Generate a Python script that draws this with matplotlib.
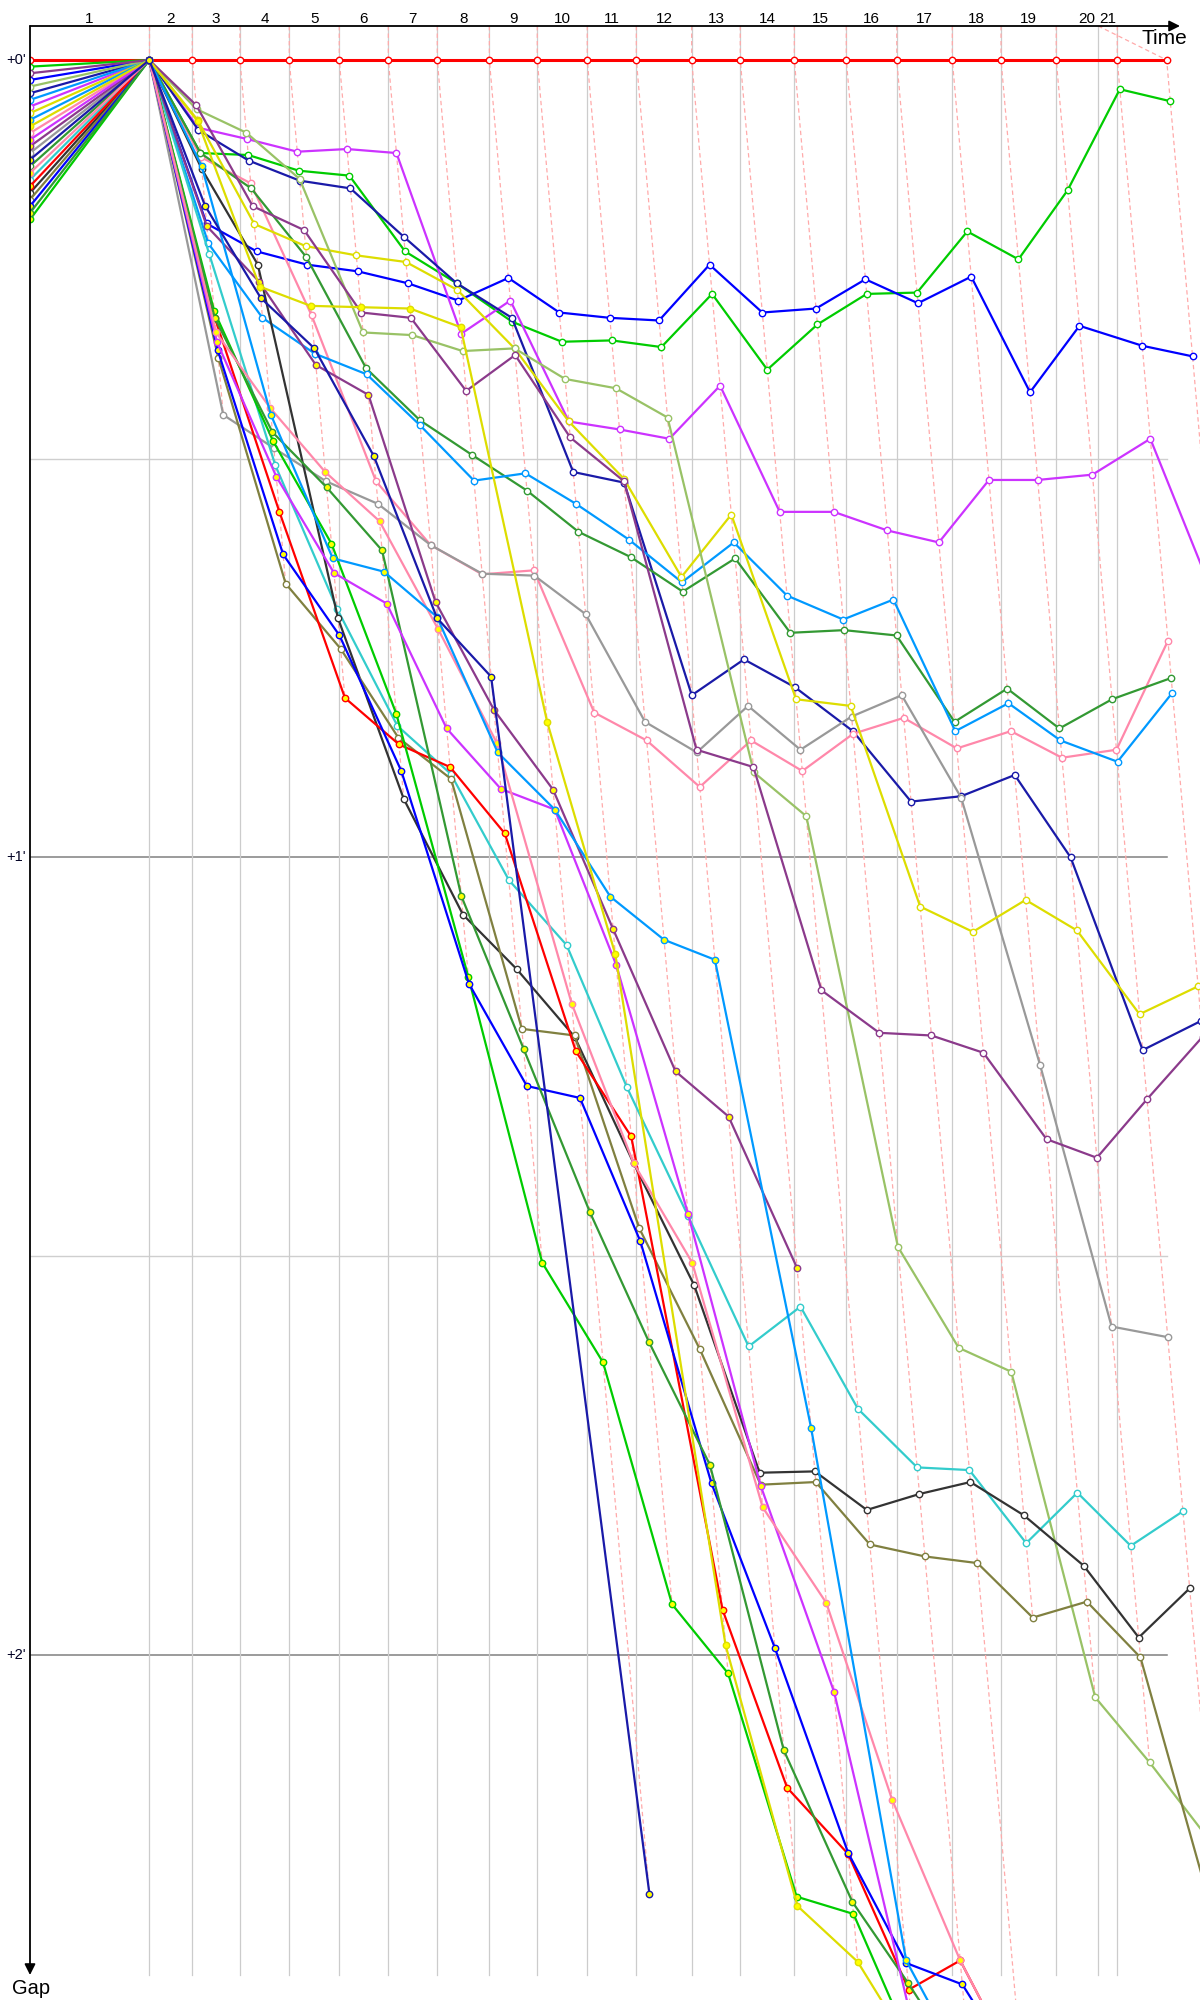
import matplotlib
matplotlib.use('Agg')
import matplotlib.pyplot as plt

plt.rcParams['font.family'] = ['Liberation Sans', 'DejaVu Sans']

# ---------------- data ----------------
# leader cumulative time (s) at end of laps 1..21
leader_times = [102.8, 139.9, 181.0, 223.5, 266.6, 308.9, 351.1, 396.0, 437.3, 480.4,
                522.7, 570.4, 612.3, 658.9, 703.7, 747.2, 795.1, 837.1, 884.7, 937.3, 979.9]
# time of the grey lap-marker line, laps 1..21
lap_marks = [102.8, 139.9, 181.0, 223.5, 266.6, 308.9, 351.1, 396.0, 437.3, 480.4,
             522.7, 570.4, 612.3, 658.9, 703.7, 747.2, 795.1, 837.1, 884.7, 937.3, 920.9]
lap_labels = [str(i) for i in range(1, 22)]

# gap to leader (s) from lap 2 onwards (a car's list ends at its last completed lap)
leader   = [0.0] * 20
green_a  = [7.0, 7.15, 8.33, 8.7, 14.4, 16.8, 19.7, 21.2, 21.1, 21.6, 17.6, 23.3, 19.9, 17.6, 17.5, 12.9, 15.0, 9.8, 2.2, 3.1]
blue_a   = [12.3, 14.4, 15.4, 15.9, 16.8, 18.1, 16.4, 19.0, 19.4, 19.6, 15.4, 19.0, 18.7, 16.5, 18.3, 16.3, 25.0, 20.0, 21.5, 22.3]
magenta_a = [5.1, 5.94, 6.9, 6.7, 7.0, 20.6, 18.1, 27.2, 27.8, 28.5, 24.5, 34.0, 34.0, 35.4, 36.3, 31.6, 31.6, 31.2, 28.5, 40.3]
navy_a   = [5.27, 7.57, 9.08, 9.66, 13.3, 16.8, 19.4, 31.0, 31.8, 47.8, 45.1, 47.2, 50.5, 55.8, 55.4, 53.8, 60.0, 74.5, 72.3]
pink_a   = [7.3, 9.28, 19.2, 31.7, 36.5, 38.7, 38.4, 49.1, 51.2, 54.7, 51.2, 53.5, 50.7, 49.5, 51.8, 50.5, 52.5, 51.9, 43.7]
dkgreen_a = [7.0, 9.66, 14.85, 23.2, 27.1, 29.7, 32.4, 35.5, 37.4, 40.0, 37.5, 43.1, 42.9, 43.3, 49.8, 47.3, 50.3, 48.1, 46.5]
sky_a    = [13.8, 19.4, 22.1, 23.65, 27.5, 31.65, 31.1, 33.4, 36.1, 39.3, 36.3, 40.3, 42.1, 40.6, 50.5, 48.4, 51.2, 52.8, 47.6]
gray_a   = [26.7, 29.2, 31.7, 33.4, 36.5, 38.65, 38.8, 41.7, 49.8, 52.1, 48.6, 51.9, 49.4, 47.8, 55.5, 75.6, 95.3, 96.1]
yellow_a = [4.5, 12.34, 14.0, 14.7, 15.2, 17.3, 21.7, 27.2, 31.5, 38.9, 34.2, 48.1, 48.6, 63.7, 65.6, 63.2, 65.5, 71.8, 69.7]
olivel_a = [3.7, 5.47, 8.95, 20.5, 20.7, 21.9, 21.7, 24.0, 24.7, 26.9, 53.6, 56.9, 89.3, 96.9, 98.7, 123.2, 128.1, 134.2]
purple_a = [3.4, 11.0, 12.8, 19.0, 19.4, 24.9, 22.2, 28.4, 31.7, 51.9, 53.2, 70.0, 73.2, 73.4, 74.7, 81.2, 82.6, 78.2, 73.5]
cyan_a   = [14.6, 30.5, 41.3, 50.1, 53.7, 61.7, 66.6, 77.3, 87.0, 96.8, 93.8, 101.5, 105.9, 106.1, 111.6, 107.8, 111.8, 109.2]
black_a  = [8.2, 15.4, 42.0, 55.6, 64.3, 68.4, 73.5, 83.0, 92.2, 106.3, 106.2, 109.1, 107.9, 107.0, 109.5, 113.3, 118.7, 115.0]
olive_a  = [22.4, 39.4, 44.3, 51.0, 54.1, 72.9, 73.4, 87.9, 97.0, 107.2, 107.0, 111.7, 112.6, 113.1, 117.2, 116.0, 120.2, 141.6]
purple_b = [12.5, 16.7, 22.95, 25.2, 40.8, 48.9, 54.9, 65.4, 76.1, 79.5, 90.9]
red_b    = [19.4, 34.0, 48.0, 51.5, 53.2, 58.2, 74.6, 81.0, 116.6, 130.0, 135.0, 145.2, 143.0, 152.0]
green_b  = [18.9, 28.7, 36.4, 49.2, 69.0, 90.5, 98.0, 116.2, 121.4, 138.2, 139.5, 150.0]
blue_b   = [21.8, 37.2, 43.3, 53.5, 69.5, 77.2, 78.1, 88.9, 107.1, 119.5, 134.9, 143.2, 144.8, 152.0]
dkgreen_b = [19.4, 28.0, 32.15, 36.9, 62.9, 74.4, 86.7, 96.5, 105.7, 127.2, 138.6, 144.7, 152.0]
magenta_b = [21.2, 31.35, 38.6, 40.9, 50.3, 54.85, 56.4, 68.1, 86.8, 107.3, 122.8, 147.4]
pink_b   = [20.5, 26.2, 31.0, 34.7, 42.8, 51.4, 71.0, 83.0, 90.5, 108.9, 116.1, 130.9, 143.0, 152.0]
sky_b    = [7.95, 26.7, 37.5, 38.5, 41.9, 52.1, 56.4, 62.95, 66.2, 67.7, 102.9, 143.0, 152.0]
yellow_b = [4.6, 17.05, 18.5, 18.6, 18.7, 20.1, 49.8, 67.3, 119.3, 138.9, 143.1, 150.0]
navy_b   = [10.96, 17.9, 21.7, 29.8, 42.0, 46.4, 138.0]

# drawing order, colours, marker fill and grid slot (start offset = slot * 0.5 s)
cars = [green_a, blue_a, magenta_a, navy_a, pink_a, dkgreen_a, sky_a, gray_a, yellow_a,
        olivel_a, purple_a, cyan_a, black_a, olive_a,
        purple_b, red_b, green_b, blue_b, dkgreen_b, magenta_b, pink_b, sky_b, yellow_b, navy_b]
car_colors = ['#00cc00', '#0000ff', '#cc33ff', '#1a1aa8', '#ff88aa', '#339933', '#0099ff',
              '#999999', '#dddd00', '#99c266', '#8b3a8b', '#33cccc', '#333333', '#808040',
              '#8b3a8b', '#ff0000', '#00cc00', '#0000ff', '#339933', '#cc33ff', '#ff88aa',
              '#0099ff', '#dddd00', '#1a1aa8']
car_fill = ['white'] * 14 + ['#ffff00'] * 10
grid_slot = [1, 3, 7, 5, 11, 16, 6, 14, 8, 4, 2, 18, 20, 21,
             13, 19, 24, 22, 23, 12, 17, 9, 10, 15]
start_step = 0.5

# ---------------- geometry ----------------
PX_PER_S_X = 1.16
PX_PER_S_Y = 13.29
W, H = 1200, 2000
x0_px, y0_px, top_px = 30, 60, 26
xmax = (W - x0_px) / PX_PER_S_X
ytop = (top_px - y0_px) / PX_PER_S_Y
ybot = (H - y0_px) / PX_PER_S_Y
yend = (1975 - y0_px) / PX_PER_S_Y

fig = plt.figure(figsize=(12, 20), dpi=100)
ax = fig.add_axes([x0_px / W, 0, 1 - x0_px / W, (H - top_px) / H])
ax.set_xlim(0, xmax)
ax.set_ylim(ybot, ytop)
ax.axis('off')

# horizontal grid
for g in [30, 90]:
    ax.plot([0, leader_times[-1]], [g, g], color='#cfcfcf', lw=1.0, zorder=1)
for g in [60, 120]:
    ax.plot([0, leader_times[-1]], [g, g], color='#808080', lw=1.1, zorder=1)

# grey lap lines
for m in lap_marks:
    ax.plot([m, m], [ytop, yend], color='#cccccc', lw=0.9, zorder=1)

# pink dashed lap lines
for k in range(21):
    gs = [0.0]
    if k >= 1:
        for c in cars:
            if len(c) >= k:
                gs.append(c[k - 1])
    gmax = max(gs)
    T = leader_times[k]
    ax.plot([lap_marks[k], T, T + gmax], [ytop, 0, gmax], color='#ffaaaa', lw=0.9,
            dashes=(3.5, 2.5), zorder=2)

# cars
def draw(gaps, col, fill, slot, lw=1.6, z=3):
    xs = [0, leader_times[0]] + [leader_times[i + 1] + g for i, g in enumerate(gaps)]
    ys = [slot * start_step, 0] + list(gaps)
    ax.plot(xs, ys, color=col, lw=lw, zorder=z, solid_joinstyle='round',
            marker='o', ms=4.6, mfc=fill, mec=col, mew=1.0)

draw(leader, '#ff0000', 'white', 0, lw=2.2, z=3)
for c, col, f, s in zip(cars, car_colors, car_fill, grid_slot):
    draw(c, col, f, s)
ax.plot([leader_times[0]], [0], marker='o', ms=4.6, mfc='#ffff00', mec='#1a1aa8', mew=1.0, zorder=5)

# axes with arrows
ax.annotate('', xy=((1180 - x0_px) / PX_PER_S_X, ytop), xytext=(0, ytop),
            arrowprops=dict(arrowstyle='-|>', color='black', lw=1.3, mutation_scale=16,
                            shrinkA=0, shrinkB=0), annotation_clip=False, zorder=6)
ax.annotate('', xy=(0, yend), xytext=(0, ytop),
            arrowprops=dict(arrowstyle='-|>', color='black', lw=1.3, mutation_scale=16,
                            shrinkA=0, shrinkB=0), annotation_clip=False, zorder=6)

# texts
fig.text(1187 / W, 1 - 38 / H, 'Time', ha='right', va='center', fontsize=15)
fig.text(12 / W, 1 - 1989 / H, 'Gap', ha='left', va='center', fontsize=14.5)
for lab, g in zip(["+0'", "+1'", "+2'"], [0, 60, 120]):
    fig.text(26 / W, 1 - (y0_px + g * PX_PER_S_Y) / H, lab, ha='right', va='center',
             fontsize=10.5, color='#000022')
bounds = [0] + lap_marks
for i, lab in enumerate(lap_labels):
    xm = (bounds[i] + bounds[i + 1]) / 2
    ax.text(xm, (19 - y0_px) / PX_PER_S_Y, lab, ha='center', va='center', fontsize=11,
            clip_on=False)

fig.savefig('out.png', dpi=100)
